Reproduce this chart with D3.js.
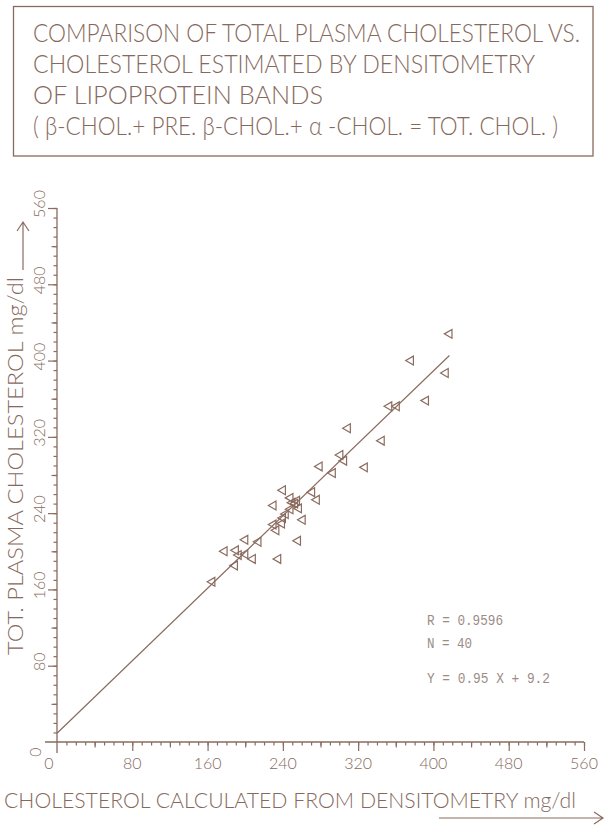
<!DOCTYPE html>
<html>
<head>
<meta charset="utf-8">
<script src="https://cdn.jsdelivr.net/npm/d3@7"></script>
<style>
  html, body { margin: 0; padding: 0; background: #ffffff; }
  svg { display: block; }
</style>
</head>
<body>
<svg id="chart" width="606" height="827"></svg>
<script>
// ---- data ----
const titleLines = [
  "COMPARISON OF TOTAL PLASMA CHOLESTEROL VS.",
  "CHOLESTEROL ESTIMATED BY DENSITOMETRY",
  "OF LIPOPROTEIN  BANDS",
  "( β-CHOL.+ PRE. β-CHOL.+ α -CHOL. = TOT. CHOL. )"
];
const xLabel = "CHOLESTEROL CALCULATED FROM DENSITOMETRY mg/dl";
const yLabel = "TOT. PLASMA CHOLESTEROL mg/dl";
const tickLabels = [80, 160, 240, 320, 400, 480, 560];
const statLines = ["R = 0.9596", "N = 40", "Y = 0.95 X + 9.2"];
const slope = 0.95;
const intercept = 9.2;
const fitRange = [0, 417];

const xValues = [417, 376, 413, 392, 353, 361, 309, 345, 301, 305, 279, 327, 293,
                 271, 276, 240, 248, 255, 253, 257, 230, 248, 240, 261, 239, 230, 233,
                 200, 214, 256, 178, 190, 193, 200, 208, 235, 189, 165, 250, 243];
const yValues = [428, 400, 387, 358, 352, 352, 329, 316, 301, 295, 289, 288, 282,
                 262, 254, 264, 256, 253, 250, 245, 248, 244, 235, 233, 229, 228, 222,
                 212, 210, 211, 200, 201, 196, 197, 192, 192, 185, 168, 251, 239];

// ---- drawing ----
const svg = d3.select("#chart");
const ink = "#8a6b5f";
const textInk = "#86695d";
const font = "Lato, 'DejaVu Sans', sans-serif";

const x = d3.scaleLinear().domain([0, 560]).range([57, 584]);
const y = d3.scaleLinear().domain([0, 560]).range([742, 208]);

// title box
svg.append("rect")
  .attr("x", 13.5).attr("y", 6.5).attr("width", 579.5).attr("height", 149.5)
  .attr("fill", "none").attr("stroke", ink).attr("stroke-width", 1.3);

const titleBase = [42, 73, 104, 135];
const titleEnd = [580, 535, 323, 558];
svg.selectAll("text.title").data(titleLines).join("text")
  .attr("class", "title")
  .attr("transform", (d, i) => `translate(33,${titleBase[i]}) scale(1,1.2)`)
  .attr("x", 0).attr("y", 0)
  .attr("textLength", (d, i) => titleEnd[i] - 33)
  .attr("lengthAdjust", "spacingAndGlyphs")
  .attr("font-family", font).attr("font-weight", 300)
  .attr("font-size", 21).attr("fill", textInk)
  .text(d => d);

// axes lines (extended past origin as drawn)
svg.append("line").attr("x1", 45).attr("x2", x(560)).attr("y1", y(0)).attr("y2", y(0))
  .attr("stroke", ink).attr("stroke-width", 1.3);
svg.append("line").attr("x1", x(0)).attr("x2", x(0)).attr("y1", 753).attr("y2", y(560))
  .attr("stroke", ink).attr("stroke-width", 1.3);

const minorTicks = d3.range(10, 561, 10);
const midTicks = d3.range(40, 561, 80);

function styleAxis(g) {
  g.select(".domain").remove();
  g.selectAll(".tick line").attr("stroke", ink).attr("stroke-width", 1.2);
  g.selectAll(".tick text").remove();
}

// x axis ticks
svg.append("g").attr("transform", `translate(0,${y(0)})`)
  .call(d3.axisBottom(x).tickValues(minorTicks).tickSize(3.5).tickFormat(""))
  .call(styleAxis);
svg.append("g").attr("transform", `translate(0,${y(0)})`)
  .call(d3.axisBottom(x).tickValues(midTicks).tickSize(5.5).tickFormat(""))
  .call(styleAxis);
svg.append("g").attr("transform", `translate(0,${y(0)})`)
  .call(d3.axisBottom(x).tickValues(tickLabels).tickSize(9).tickFormat(""))
  .call(styleAxis);

// y axis ticks
svg.append("g").attr("transform", `translate(${x(0)},0)`)
  .call(d3.axisLeft(y).tickValues(minorTicks).tickSize(3.5).tickFormat(""))
  .call(styleAxis);
svg.append("g").attr("transform", `translate(${x(0)},0)`)
  .call(d3.axisLeft(y).tickValues(midTicks).tickSize(5.5).tickFormat(""))
  .call(styleAxis);
svg.append("g").attr("transform", `translate(${x(0)},0)`)
  .call(d3.axisLeft(y).tickValues(tickLabels).tickSize(9).tickFormat(""))
  .call(styleAxis);

// x tick labels
svg.selectAll("text.xt").data([0].concat(tickLabels)).join("text")
  .attr("class", "xt")
  .attr("x", d => d === 0 ? 49 : x(d))
  .attr("y", 769)
  .attr("text-anchor", "middle")
  .attr("font-family", font).attr("font-weight", 300)
  .attr("font-size", 16).attr("fill", textInk)
  .text(d => d);

// y tick labels (rotated)
svg.selectAll("text.yt").data([0].concat(tickLabels)).join("text")
  .attr("class", "yt")
  .attr("transform", d => d === 0 ? `translate(41,${752}) rotate(-90)` : `translate(45,${y(d) - 4}) rotate(-90)`)
  .attr("text-anchor", "middle")
  .attr("font-family", font).attr("font-weight", 300)
  .attr("font-size", 16).attr("fill", textInk)
  .text(d => d);

// axis titles
svg.append("text")
  .attr("x", 4).attr("y", 808)
  .attr("textLength", 572).attr("lengthAdjust", "spacingAndGlyphs")
  .attr("font-family", font).attr("font-weight", 300)
  .attr("font-size", 22).attr("fill", textInk)
  .text(xLabel);

svg.append("text")
  .attr("transform", "translate(23,655) rotate(-90)")
  .attr("textLength", 378).attr("lengthAdjust", "spacingAndGlyphs")
  .attr("font-family", font).attr("font-weight", 300)
  .attr("font-size", 21).attr("fill", textInk)
  .text(yLabel);

// arrows
svg.append("path")
  .attr("d", "M439,818 L603,818 M594,812 L603,818 L594,824")
  .attr("fill", "none").attr("stroke", ink).attr("stroke-width", 1.2);
svg.append("path")
  .attr("d", "M23,270 L23,222 M17,231 L23,222 L29,231")
  .attr("fill", "none").attr("stroke", ink).attr("stroke-width", 1.2);

// regression line
svg.append("line")
  .attr("x1", x(fitRange[0])).attr("y1", y(slope * fitRange[0] + intercept))
  .attr("x2", x(fitRange[1])).attr("y2", y(slope * fitRange[1] + intercept))
  .attr("stroke", ink).attr("stroke-width", 1.2);

// points
const tri = d3.symbol().type(d3.symbolTriangle).size(34);
svg.selectAll("path.pt").data(xValues.map((v, i) => [v, yValues[i]])).join("path")
  .attr("class", "pt")
  .attr("d", tri)
  .attr("transform", d => `translate(${x(d[0])},${y(d[1])}) rotate(-90)`)
  .attr("fill", "none").attr("stroke", ink).attr("stroke-width", 1.2);

// statistics
const statBase = [625, 648, 683];
const statEnd = [503, 472, 550];
svg.selectAll("text.stat").data(statLines).join("text")
  .attr("class", "stat")
  .attr("x", 427)
  .attr("y", (d, i) => statBase[i])
  .attr("textLength", (d, i) => statEnd[i] - 427)
  .attr("lengthAdjust", "spacingAndGlyphs")
  .attr("font-family", "'Liberation Mono', 'DejaVu Sans Mono', monospace")
  .attr("font-size", 15).attr("fill", "#9c8c86")
  .text(d => d);
</script>
</body>
</html>
